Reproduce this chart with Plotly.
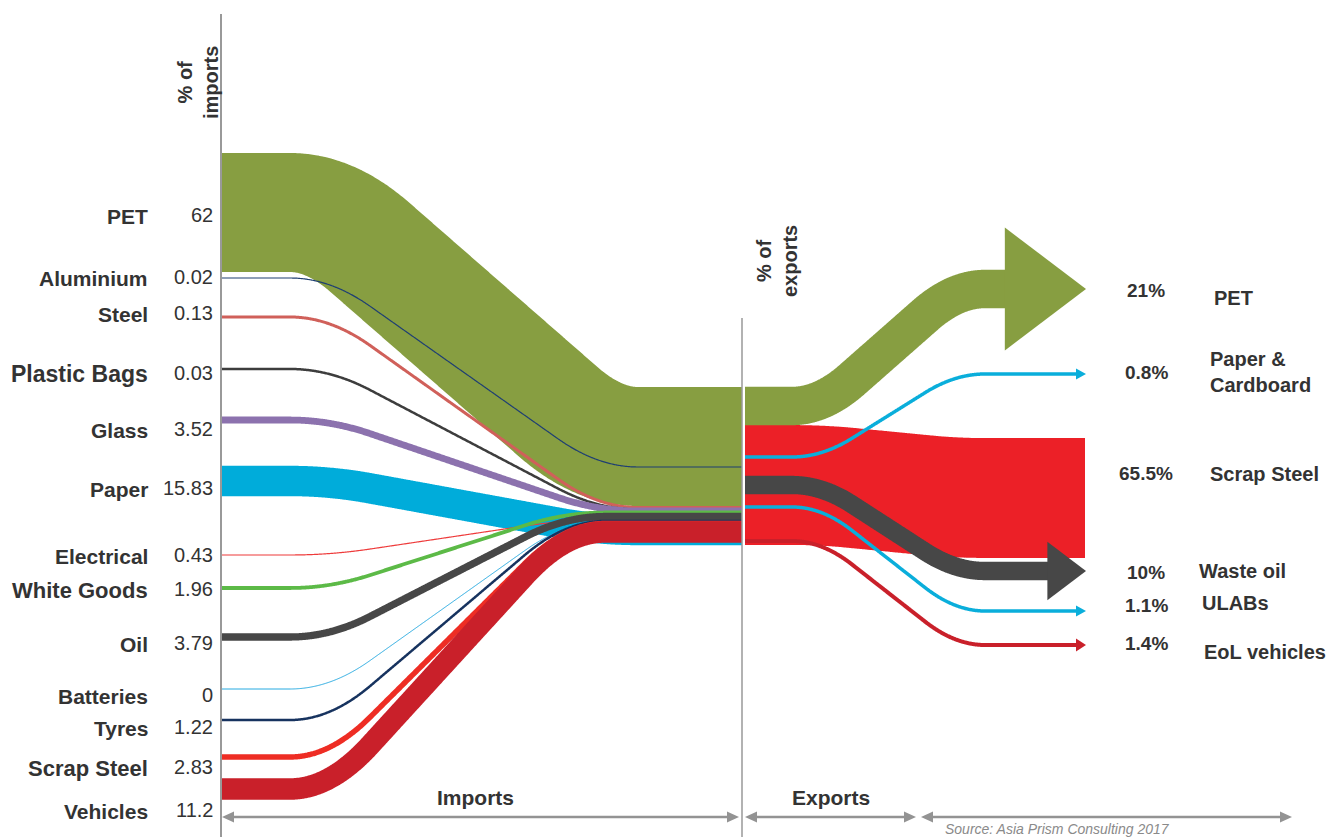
import numpy as np
import plotly.graph_objects as go

# ---------------- data ----------------
import_categories = ["PET", "Aluminium", "Steel", "Plastic Bags", "Glass", "Paper",
                     "Electrical", "White Goods", "Oil", "Batteries", "Tyres",
                     "Scrap Steel", "Vehicles"]
import_share = [62, 0.02, 0.13, 0.03, 3.52, 15.83, 0.43, 1.96, 3.79, 0, 1.22, 2.83, 11.2]

export_categories = ["PET", "Paper &<br>Cardboard", "Scrap Steel", "Waste oil", "ULABs", "EoL vehicles"]
export_share = [21, 0.8, 65.5, 10, 1.1, 1.4]

source_text = "Source: Asia Prism Consulting 2017"

# ---------------- layout (pixel positions / styles) ----------------
W, H = 1336, 837
X_LEFT, X_MID, X_EXP0, X_TIP, X_STEEL_END = 222, 742, 745, 1086, 1085
IMP_PX, EXP_PX = 1.92, 1.83          # px per percentage point

import_y_start = [212.5, 278, 317, 369, 420, 481, 555, 588, 637, 689, 720, 757, 789]
import_y_join = [446.5, 467, 507.5, 509.5, 511, 530, 520, 512.5, 516.5, 522, 521, 523.5, 532]
import_label_y = [216, 278, 314, 374, 430, 489, 556, 590, 644, 696, 728, 768, 811]
import_label_size = [21, 21, 21, 23, 21, 21, 21, 22, 21, 21, 21, 22, 21]
import_min_w = [0, 1.2, 3, 2.5, 1, 1, 1.2, 1, 1, 1, 2.5, 1, 1]
import_colors = ["#879e41", "#1f3f73", "#d0605a", "#3d3d3d", "#8c72ae", "#00acda",
                 "#ee3b3b", "#5cba47", "#474747", "#27aae1", "#17335f", "#ee2d24", "#c9202a"]
import_order = [0, 5, 1, 2, 3, 4, 6, 7, 8, 9, 10, 11, 12]

export_y_start = [406, 457, 485, 485, 507, 541]
export_y_end = [289, 374, 498, 571, 611, 645]
export_arrow = [True, True, False, True, True, True]
export_min_w = [0, 3.5, 0, 0, 3.5, 4]
export_colors = ["#879e41", "#0aaedb", "#ec2027", "#474747", "#0aaedb", "#c9202a"]
export_order = [2, 0, 1, 3, 4, 5]
export_pct_y = [290, 372, 473, 572, 605, 643]
export_name_x = [1212, 1208, 1208, 1197, 1200, 1202]
export_name_y = [298, 372, 474, 571, 603, 652]

FONT = "Liberation Sans, Arial, sans-serif"
TXT = "#333333"
AXIS = "#999999"


def flow_path(x0, x1, y0, y1, p, q, c, n=400):
    """Horizontal - smooth bend - straight diagonal - smooth bend - horizontal."""
    xa, xb = p - c / 2.0, q + c / 2.0
    L = xb - xa
    r = c / L
    h = 1.0 / (1.0 - r)
    x = np.concatenate([[x0, x0 + 1], np.linspace(xa, xb, n), [x1 - 1, x1]])
    t = np.clip((x - xa) / L, 0, 1)
    f = np.where(t < r, h * t ** 2 / (2 * r),
                 np.where(t <= 1 - r, h * r / 2 + h * (t - r), 1 - h * (1 - t) ** 2 / (2 * r)))
    return x, y0 + (y1 - y0) * f


fig = go.Figure()

# ---------------- import flows ----------------
for i in import_order:
    w = max(import_share[i] * IMP_PX, import_min_w[i])
    y0, y1 = import_y_start[i], import_y_join[i]
    q = 598 if y1 > y0 else 565
    xs, ys = flow_path(X_LEFT, X_MID, y0, y1, 330, q, 80)
    fig.add_trace(go.Scatter(x=xs, y=ys, mode="lines",
                             line=dict(color=import_colors[i], width=w, simplify=False),
                             hoverinfo="skip", showlegend=False))

# ---------------- export flows ----------------
for i in export_order:
    w = max(export_share[i] * EXP_PX, export_min_w[i])
    y0, y1 = export_y_start[i], export_y_end[i]
    if export_arrow[i]:
        head_h = max(3.2 * w, 11)
        head_l = max(0.66 * head_h, 10)
        x_end = X_TIP - head_l
    else:
        x_end = X_STEEL_END
    xs, ys = flow_path(X_EXP0, x_end + (1 if export_arrow[i] else 0), y0, y1, 822, 955, 60)
    fig.add_trace(go.Scatter(x=xs, y=ys, mode="lines",
                             line=dict(color=export_colors[i], width=w, simplify=False),
                             hoverinfo="skip", showlegend=False))
    if export_arrow[i]:
        fig.add_trace(go.Scatter(
            x=[x_end, X_TIP, x_end, x_end],
            y=[y1 - head_h / 2, y1, y1 + head_h / 2, y1 - head_h / 2],
            mode="lines", fill="toself", fillcolor=export_colors[i],
            line=dict(width=0, color=export_colors[i]),
            hoverinfo="skip", showlegend=False))

# ---------------- axis lines and bottom arrows ----------------
shapes = [
    dict(type="line", x0=221, x1=221, y0=14, y1=H + 5, xref="x", yref="y",
         line=dict(color=AXIS, width=2), layer="above"),
    dict(type="line", x0=742, x1=742, y0=318, y1=H + 5, xref="x", yref="y",
         line=dict(color=AXIS, width=1.5), layer="above"),
]
ARROW_Y = 817
HL, HH = 12, 5.5
for (a, b) in [(222, 739), (745, 916), (921, 1292)]:
    shapes.append(dict(type="line", x0=a + HL - 1, x1=b - HL + 1, y0=ARROW_Y, y1=ARROW_Y,
                       xref="x", yref="y", line=dict(color="#939393", width=2.5)))
    shapes.append(dict(type="path", xref="x", yref="y",
                       path=f"M{a},{ARROW_Y} L{a + HL},{ARROW_Y - HH} L{a + HL},{ARROW_Y + HH} Z",
                       fillcolor="#939393", line=dict(width=0)))
    shapes.append(dict(type="path", xref="x", yref="y",
                       path=f"M{b},{ARROW_Y} L{b - HL},{ARROW_Y - HH} L{b - HL},{ARROW_Y + HH} Z",
                       fillcolor="#939393", line=dict(width=0)))

# ---------------- text ----------------
ann = []
for i, name in enumerate(import_categories):
    ann.append(dict(x=150, y=import_label_y[i], text=f"<b>{name}</b>", xanchor="right",
                    yanchor="middle", showarrow=False,
                    font=dict(family=FONT, size=import_label_size[i], color=TXT)))
    ann.append(dict(x=215, y=import_label_y[i] - 1, text=f"{import_share[i]:g}", xanchor="right",
                    yanchor="middle", showarrow=False, font=dict(family=FONT, size=20, color=TXT)))

for i, name in enumerate(export_categories):
    ann.append(dict(x=1146, y=export_pct_y[i], text=f"<b>{export_share[i]:g}%</b>", xanchor="center",
                    yanchor="middle", showarrow=False, font=dict(family=FONT, size=19, color=TXT)))
    ann.append(dict(x=export_name_x[i], y=export_name_y[i], text=f"<b>{name}</b>", xanchor="left",
                    yanchor="middle", align="left", showarrow=False,
                    font=dict(family=FONT, size=20, color=TXT)))

ann.append(dict(x=198, y=83, text="<b>% of<br>imports</b>", textangle=-90, showarrow=False,
                xanchor="center", yanchor="middle", font=dict(family=FONT, size=20, color=TXT)))
ann.append(dict(x=777, y=261, text="<b>% of<br>exports</b>", textangle=-90, showarrow=False,
                xanchor="center", yanchor="middle", font=dict(family=FONT, size=20, color=TXT)))
ann.append(dict(x=475, y=797, text="<b>Imports</b>", showarrow=False, xanchor="center",
                yanchor="middle", font=dict(family=FONT, size=21, color=TXT)))
ann.append(dict(x=831, y=797, text="<b>Exports</b>", showarrow=False, xanchor="center",
                yanchor="middle", font=dict(family=FONT, size=21, color=TXT)))
ann.append(dict(x=943, y=819, text=source_text, showarrow=False, xanchor="left",
                yanchor="top", font=dict(family=FONT, size=14, color="#8a8a8a", style="italic")))

fig.update_layout(
    width=W, height=H,
    margin=dict(l=0, r=0, t=0, b=0),
    paper_bgcolor="white", plot_bgcolor="white",
    xaxis=dict(range=[0, W], visible=False, fixedrange=True),
    yaxis=dict(range=[H, 0], visible=False, fixedrange=True),
    shapes=shapes, annotations=ann, showlegend=False,
)

fig.write_html("out.html")
